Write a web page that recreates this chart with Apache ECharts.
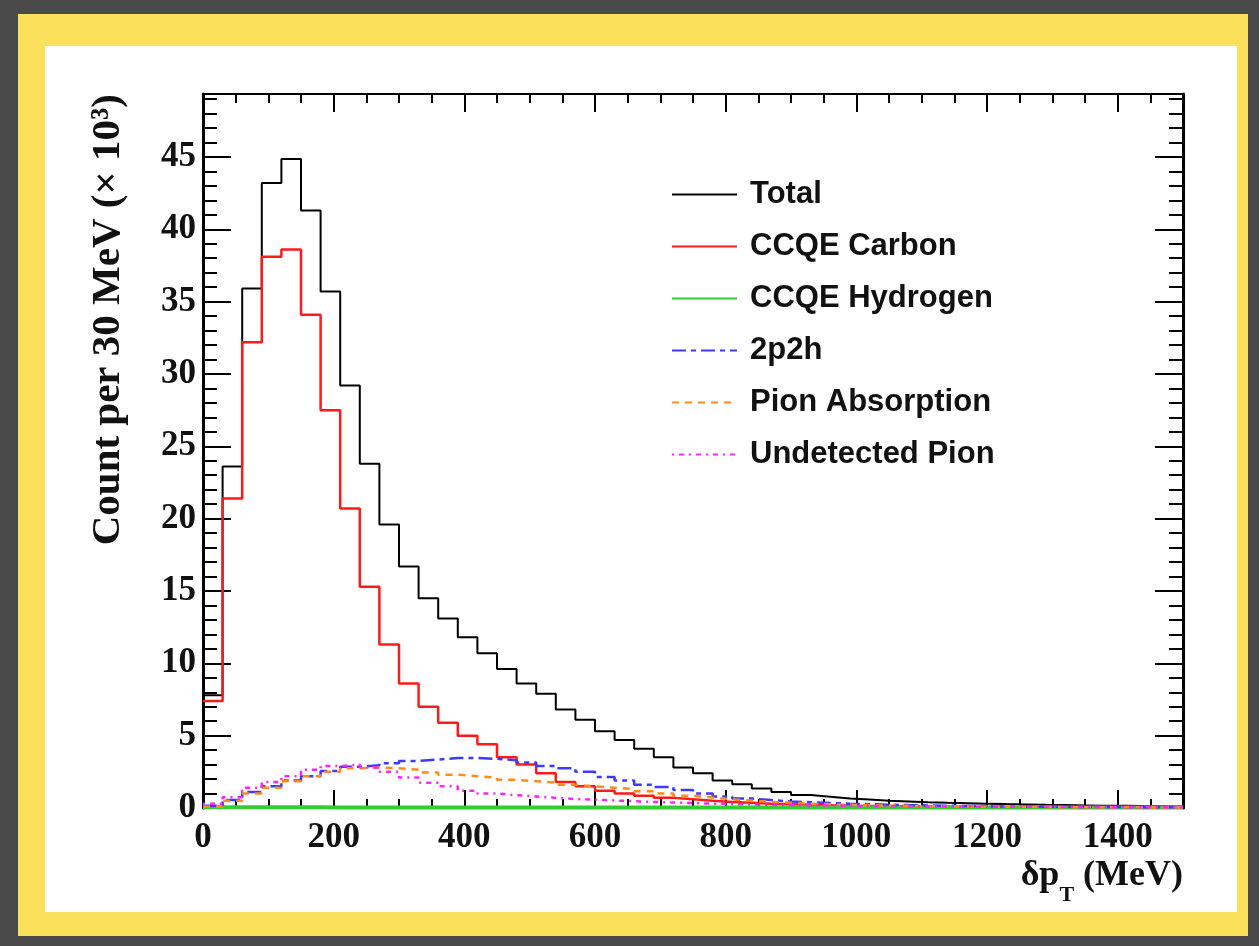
<!DOCTYPE html>
<html>
<head>
<meta charset="utf-8">
<style type="text/css">
	html, body{
		margin: 0;
		padding: 0;
		width: 1259px;
		height: 946px;
		background-color: #4a4a4a;
		overflow: hidden;
	}
	#frame{
		position: absolute;
		left: 18px;
		top: 14px;
		width: 1230px;
		height: 922px;
		background-color: #fbe05c;
	}
	#inner{
		position: absolute;
		left: 45px;
		top: 46px;
		width: 1192px;
		height: 866px;
		background-color: #fff;
	}
	#chart{
		position: absolute;
		left: 0;
		top: 0;
		width: 1259px;
		height: 946px;
	}
</style>
</head>
<body>
<div id="frame"></div>
<div id="inner"></div>
<div id="chart"></div>
<script src="https://cdn.jsdelivr.net/npm/echarts@6/dist/echarts.min.js"></script>
<script>
// bins of 30 MeV from 0 to 1500
var BIN_WIDTH = 30;
var X_MAX = 1500;
var Y_MAX = 49.35;

var totalCounts = [7.8, 23.6, 35.9, 43.2, 44.85, 41.3, 35.7, 29.2, 23.8, 19.6,
	16.7, 14.5, 13.1, 11.8, 10.7, 9.6, 8.6, 7.9, 6.8, 6.1,
	5.3, 4.7, 4.1, 3.5, 2.8, 2.4, 1.9, 1.65, 1.35, 1.1,
	0.9, 0.78, 0.65, 0.58, 0.5, 0.45, 0.4, 0.36, 0.33, 0.3,
	0.27, 0.25, 0.22, 0.2, 0.18, 0.16, 0.15, 0.13, 0.12, 0.1];
var carbonCounts = [7.4, 21.4, 32.2, 38.1, 38.6, 34.1, 27.5, 20.7, 15.3, 11.3,
	8.6, 7.0, 5.9, 5.0, 4.4, 3.5, 3.0, 2.4, 1.8, 1.5,
	1.2, 1.0, 0.85, 0.7, 0.6, 0.5, 0.42, 0.36, 0.3, 0.26,
	0.22, 0.19, 0.16, 0.14, 0.12, 0.1, 0.09, 0.08, 0.07, 0.06,
	0.05, 0.05, 0.04, 0.04, 0.03, 0.03, 0.03, 0.02, 0.02, 0.02];
var hydrogenCounts = [0.06, 0.06, 0.05, 0.05, 0.05, 0.05, 0.04, 0.04, 0.04, 0.04,
	0.04, 0.03, 0.03, 0.03, 0.03, 0.03, 0.03, 0.03, 0.03, 0.03,
	0.03, 0.03, 0.03, 0.03, 0.03, 0.03, 0.03, 0.03, 0.03, 0.03,
	0.03, 0.03, 0.03, 0.03, 0.03, 0.03, 0.03, 0.03, 0.03, 0.03,
	0.03, 0.03, 0.03, 0.03, 0.03, 0.03, 0.03, 0.03, 0.03, 0.03];
var twoP2hCounts = [0.15, 0.55, 1.1, 1.5, 1.9, 2.2, 2.55, 2.85, 2.95, 3.1,
	3.25, 3.35, 3.45, 3.45, 3.4, 3.3, 3.15, 2.9, 2.75, 2.5,
	2.15, 1.9, 1.6, 1.45, 1.25, 1.0, 0.8, 0.65, 0.55, 0.45,
	0.4, 0.35, 0.3, 0.26, 0.23, 0.2, 0.18, 0.16, 0.14, 0.12,
	0.11, 0.1, 0.09, 0.08, 0.07, 0.07, 0.06, 0.06, 0.05, 0.05];
var pionAbsCounts = [0.1, 0.5, 1.0, 1.4, 1.85, 2.2, 2.5, 2.75, 2.8, 2.75,
	2.65, 2.45, 2.3, 2.2, 2.1, 1.95, 1.85, 1.75, 1.6, 1.5,
	1.4, 1.3, 1.15, 1.0, 0.85, 0.72, 0.6, 0.5, 0.42, 0.36,
	0.3, 0.26, 0.22, 0.19, 0.17, 0.15, 0.13, 0.12, 0.1, 0.09,
	0.08, 0.08, 0.07, 0.06, 0.06, 0.05, 0.05, 0.04, 0.04, 0.04];
var undetPionCounts = [0.3, 0.75, 1.4, 1.8, 2.2, 2.65, 2.9, 3.0, 2.8, 2.5,
	2.1, 1.75, 1.5, 1.2, 1.0, 0.88, 0.8, 0.7, 0.62, 0.58,
	0.52, 0.47, 0.42, 0.38, 0.34, 0.3, 0.27, 0.25, 0.22, 0.2,
	0.18, 0.17, 0.15, 0.14, 0.13, 0.12, 0.11, 0.1, 0.1, 0.09,
	0.09, 0.08, 0.08, 0.07, 0.07, 0.06, 0.06, 0.06, 0.05, 0.05];

var seriesNames = ['Total', 'CCQE Carbon', 'CCQE Hydrogen', '2p2h', 'Pion Absorption', 'Undetected Pion'];

// histogram -> step points (left edge of each bin + closing right edge)
function toSteps(vals){
	var pts = [];
	for(var i=0;i<vals.length;i++){
		pts.push([i*BIN_WIDTH, vals[i]]);
	}
	pts.push([vals.length*BIN_WIDTH, vals[vals.length-1]]);
	return pts;
}

function histSeries(name, vals, color, width, type){
	return {
		name: name,
		type: 'line',
		step: 'end',
		symbol: 'none',
		animation: false,
		xAxisIndex: 0,
		yAxisIndex: 0,
		lineStyle: {color: color, width: width, type: type},
		itemStyle: {color: color},
		data: toSteps(vals)
	};
}

var serifFont = '"Liberation Serif", "DejaVu Serif", serif';
var sansFont = '"Liberation Sans", Arial, sans-serif';

function plainNum(v){ return String(v); }

var chart = echarts.init(document.getElementById('chart'), null, {renderer: 'canvas'});

var tickX = {inside: true, length: 18, lineStyle: {color: '#000', width: 2}};
var minorX = {show: true, splitNumber: 4, length: 9, lineStyle: {color: '#000', width: 2}};
var tickY = {inside: true, length: 28, lineStyle: {color: '#000', width: 2}};
var minorY = {show: true, splitNumber: 5, length: 14, lineStyle: {color: '#000', width: 2}};

var option = {
	backgroundColor: 'transparent',
	animation: false,
	grid: {
		left: 203,
		right: 76,
		top: 94,
		bottom: 138,
		containLabel: false
	},
	legend: {
		orient: 'vertical',
		left: 666,
		top: 174,
		itemWidth: 65,
		itemHeight: 30,
		itemGap: 21,
		data: seriesNames,
		itemStyle: {opacity: 0},
		textStyle: {
			fontFamily: sansFont,
			fontWeight: 'bold',
			fontSize: 31,
			color: '#111',
			padding: [0, 0, 0, 8]
		}
	},
	xAxis: [{
		type: 'value',
		min: 0,
		max: X_MAX,
		interval: 200,
		position: 'bottom',
		name: '{a|δp}{s|T}{a| (MeV)}',
		nameLocation: 'end',
		nameGap: 0,
		nameTextStyle: {
			align: 'right',
			verticalAlign: 'top',
			padding: [50, 0, 0, 0],
			rich: {
				a: {fontFamily: serifFont, fontWeight: 'bold', fontSize: 36, color: '#111'},
				s: {fontFamily: serifFont, fontWeight: 'bold', fontSize: 22, color: '#111', verticalAlign: 'bottom', padding: [0, 0, -12, 0]}
			}
		},
		axisLine: {onZero: false, lineStyle: {color: '#000', width: 2}},
		axisTick: tickX,
		minorTick: minorX,
		splitLine: {show: false},
		axisLabel: {
			margin: 12,
			showMaxLabel: false,
			formatter: plainNum,
			fontFamily: serifFont,
			fontWeight: 'bold',
			fontSize: 35,
			color: '#111'
		}
	}, {
		type: 'value',
		min: 0,
		max: X_MAX,
		interval: 200,
		position: 'top',
		axisLine: {onZero: false, lineStyle: {color: '#000', width: 2}},
		axisTick: tickX,
		minorTick: minorX,
		splitLine: {show: false},
		axisLabel: {show: false}
	}],
	yAxis: [{
		type: 'value',
		min: 0,
		max: Y_MAX,
		interval: 5,
		position: 'left',
		name: 'Count per 30 MeV (× 10³)',
		nameLocation: 'end',
		nameGap: 0,
		nameRotate: 90,
		nameTextStyle: {
			align: 'right',
			verticalAlign: 'bottom',
			padding: [0, 0, 74, 0],
			fontFamily: serifFont,
			fontWeight: 'bold',
			fontSize: 41,
			color: '#111'
		},
		axisLine: {onZero: false, lineStyle: {color: '#000', width: 3}},
		axisTick: tickY,
		minorTick: minorY,
		splitLine: {show: false},
		axisLabel: {
			margin: 7,
			showMaxLabel: false,
			formatter: plainNum,
			fontFamily: serifFont,
			fontWeight: 'bold',
			fontSize: 35,
			color: '#111'
		}
	}, {
		type: 'value',
		min: 0,
		max: Y_MAX,
		interval: 5,
		position: 'right',
		axisLine: {onZero: false, lineStyle: {color: '#000', width: 3}},
		axisTick: tickY,
		minorTick: minorY,
		splitLine: {show: false},
		axisLabel: {show: false}
	}],
	series: [
		histSeries('Total', totalCounts, '#000000', 2, 'solid'),
		histSeries('CCQE Carbon', carbonCounts, '#ff1a1a', 2.5, 'solid'),
		histSeries('CCQE Hydrogen', hydrogenCounts, '#33cc33', 4, 'solid'),
		histSeries('2p2h', twoP2hCounts, '#3b3bff', 2.5, [14, 5, 5, 5]),
		histSeries('Pion Absorption', pionAbsCounts, '#ff8c1a', 2.5, [7, 6]),
		histSeries('Undetected Pion', undetPionCounts, '#ff22ff', 2.5, [2, 5, 5, 5])
	]
};

chart.setOption(option);
window.addEventListener('resize', function () {
	chart.resize();
});
</script>
</body>
</html>
